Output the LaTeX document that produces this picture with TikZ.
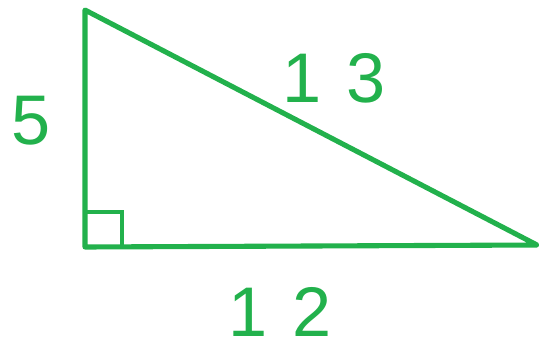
\documentclass[tikz,border=0pt]{standalone}
\usepackage{fontspec}
\setmainfont{Liberation Sans}
\usetikzlibrary{positioning, calc}
\definecolor{pgreen}{HTML}{22B14C}

\begin{document}
\begin{tikzpicture}[x=0.02cm, y=-0.02cm]

% Canvas (pixel coordinates, y downwards)
\useasboundingbox (0,0) rectangle (539,349);

% Triangle
\draw[pgreen, line width=2.9pt, line join=round, line cap=round]
  (85,10) -- (85,247) -- (537,245) -- cycle;

% Right angle marker
\draw[pgreen, line width=1.8pt] (85,212) -- (122,212) -- (122,247);

% Side labels
\tikzset{sidelabel/.style={text=pgreen, inner sep=0pt, font=\fontsize{40}{40}\selectfont}}
\node[sidelabel] (lblleg) at (31,121) {5};
\node[sidelabel] (lblhyp) at (334,78) {1\hspace{14pt}3};
\node[sidelabel] (lblbase) at (280,312) {1\hspace{14pt}2};

\end{tikzpicture}
\end{document}
